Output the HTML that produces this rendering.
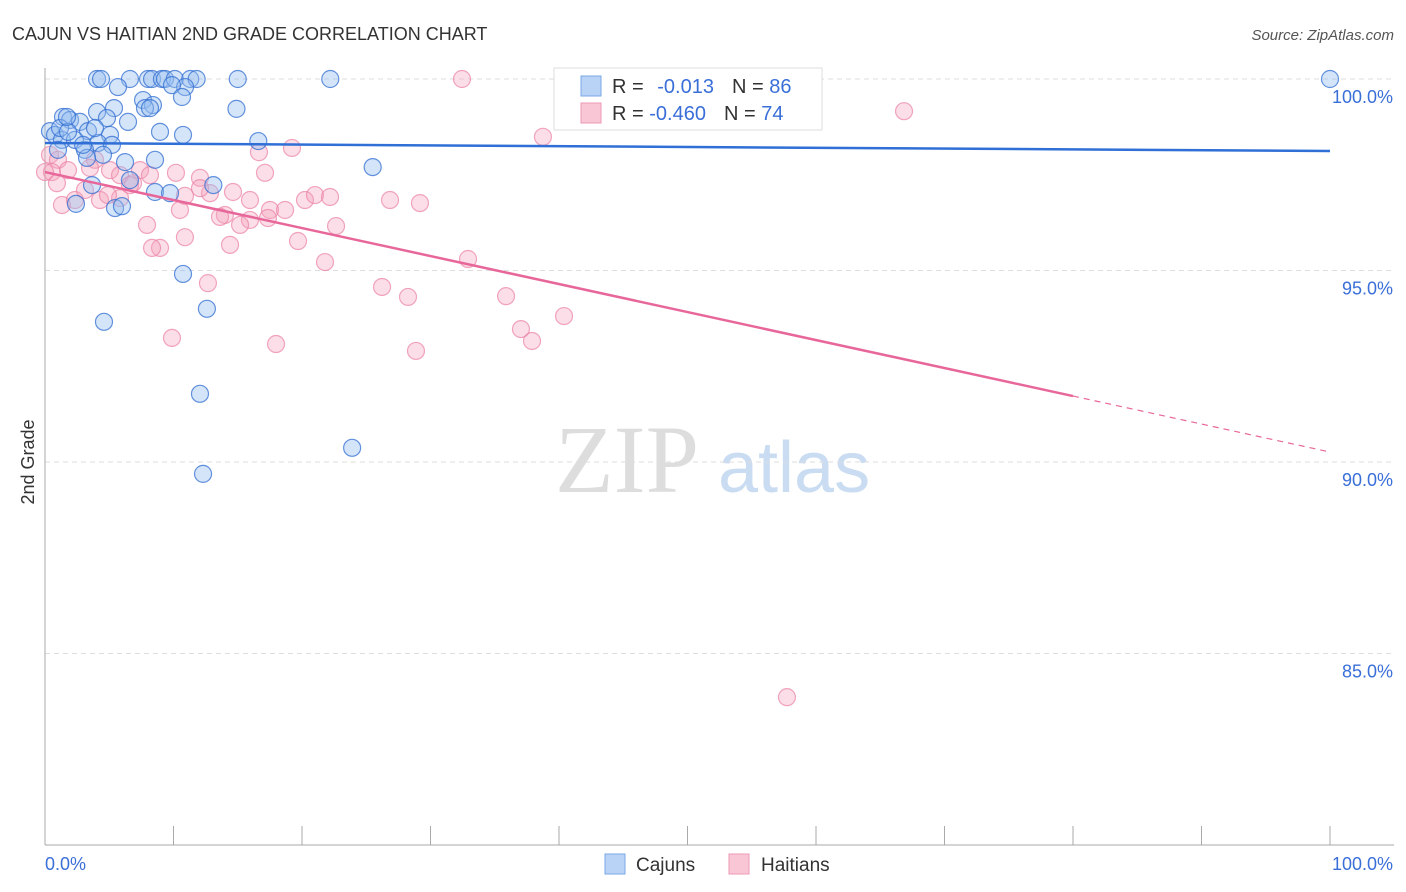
<!DOCTYPE html>
<html><head><meta charset="utf-8"><style>
body{margin:0;background:#fff;font-family:"Liberation Sans",sans-serif;}
svg{display:block}
</style></head><body>
<svg id="c" width="1406" height="892">
<text x="12" y="40" font-size="18" fill="#333">CAJUN VS HAITIAN 2ND GRADE CORRELATION CHART</text>
<text x="1394" y="40" font-size="15" fill="#555" font-style="italic" text-anchor="end">Source: ZipAtlas.com</text>
<text x="34" y="462" font-size="18" fill="#333" transform="rotate(-90 34 462)" text-anchor="middle">2nd Grade</text>
<text x="555" y="492" font-size="96" fill="#ddd" font-family="Liberation Serif,serif">ZIP</text>
<text x="718" y="492" font-size="72" fill="#c9dcf2">atlas</text>
<g id="grid"></g><g id="pts"></g><g id="trend"></g>
<g>
<rect x="554" y="68" width="268" height="62" fill="#fff" stroke="#ddd"/>
<rect x="581" y="76" width="20" height="20" fill="#b8d3f5" stroke="#7aa7e6"/>
<rect x="581" y="103" width="20" height="20" fill="#f9c6d5" stroke="#ee9ab4"/>
<text x="612" y="93" font-size="20" fill="#333">R = <tspan fill="#3a6fd8" dx="8">-0.013</tspan><tspan dx="18" fill="#333">N = </tspan><tspan fill="#3a6fd8">86</tspan></text>
<text x="612" y="120" font-size="20" fill="#333">R = <tspan fill="#3a6fd8">-0.460</tspan><tspan dx="18" fill="#333">N = </tspan><tspan fill="#3a6fd8">74</tspan></text>
</g>
<g>
<rect x="605" y="854" width="20" height="20" fill="#b8d3f5" stroke="#7aa7e6"/>
<text x="636" y="871" font-size="19" fill="#333">Cajuns</text>
<rect x="729" y="854" width="20" height="20" fill="#f9c6d5" stroke="#ee9ab4"/>
<text x="761" y="871" font-size="19" fill="#333">Haitians</text>
</g>
</svg>
<script>
const yTicks=[100,95,90,85];
const yTickLabels=["100.0%","95.0%","90.0%","85.0%"];
const xTickLabels=["0.0%","100.0%"];
const cajunX=[4.05,4.36,6.61,8.02,8.33,9.1,9.34,10.1,11.3,11.8,15.0,22.2,100,5.68,10.9,9.88,7.63,8.4,10.66,14.9,5.37,4.05,1.4,1.95,2.72,4.82,6.46,3.35,5.06,8.95,10.74,16.6,0.39,0.78,1.32,2.33,4.12,5.21,3.11,4.51,6.23,8.56,25.5,3.66,6.61,13.1,8.56,9.73,2.41,5.45,5.99,10.74,4.59,12.6,12.06,23.9,12.3,1.17,1.79,3.89,1.01,3.27,7.78,8.17,1.71,2.96];
const cajunY=[100,100,100,100,100,100,100,100,100,100,100,100,100,99.79,99.79,99.84,99.45,99.32,99.53,99.22,99.24,99.14,99.01,98.93,98.88,98.98,98.88,98.64,98.54,98.62,98.54,98.38,98.64,98.54,98.41,98.41,98.33,98.28,98.15,98.02,97.83,97.89,97.70,97.23,97.36,97.23,97.05,97.02,96.74,96.63,96.68,94.91,93.66,94.0,91.78,90.37,89.69,98.72,98.62,98.72,98.15,97.94,99.24,99.24,99.01,98.28];
const haitiX=[32.45,66.85,38.75,19.22,16.65,17.12,0.39,1.01,0.54,1.79,3.89,5.06,5.84,7.39,6.85,8.17,10.19,12.06,12.84,14.63,15.95,17.51,18.68,20.23,21.01,22.18,26.85,29.18,1.32,2.33,4.28,5.84,10.89,14.0,15.95,15.18,17.35,22.65,7.94,8.95,8.33,10.89,14.4,19.69,21.79,32.92,26.23,28.25,35.88,37.04,40.39,37.9,9.88,17.98,28.87,12.68,57.74,4.9,3.11,6.61,12.06,13.62,10.5,0.93,0,3.5];
const haitiY=[100,99.16,98.49,98.2,98.09,97.55,98.02,97.89,97.57,97.62,97.89,97.62,97.49,97.62,97.28,97.49,97.55,97.42,97.02,97.05,96.84,96.58,96.58,96.84,96.97,96.92,96.84,96.76,96.71,96.84,96.84,96.89,96.95,96.45,96.32,96.19,96.37,96.16,96.19,95.59,95.59,95.87,95.67,95.77,95.22,95.3,94.57,94.31,94.33,93.47,93.81,93.16,93.24,93.08,92.9,94.67,83.86,96.97,97.1,97.23,97.15,96.4,96.58,97.28,97.57,97.68];
const cajunTrend=[98.33,98.12];
const haitiTrend=[97.57,90.26];
const X=v=>45+v*12.85, Y=v=>79+(100-v)*38.3;
const NS="http://www.w3.org/2000/svg";
function mk(t,p,a){const e=document.createElementNS(NS,t);for(const k in a)e.setAttribute(k,a[k]);p.appendChild(e);return e;}
const g=document.getElementById('grid');
yTicks.forEach((t,i)=>{
 const l=mk('line',g,{x1:45,x2:1394,y1:Y(t),y2:Y(t),stroke:'#ddd','stroke-dasharray':'5,4'});
 
 
 const tx=mk('text',g,{x:1393,y:Y(t)+24,'font-size':18,fill:'#3a6fd8','text-anchor':'end'});tx.textContent=yTickLabels[i];
 
 
});
mk('line',g,{x1:45,x2:45,y1:68,y2:845,stroke:'#aaa'});
mk('line',g,{x1:45,x2:1394,y1:845,y2:845,stroke:'#aaa'});
for(let i=0;i<=10;i++){mk('line',g,{x1:X(i*10),x2:X(i*10),y1:826,y2:845,stroke:'#aaa'});}
const xl0=mk('text',g,{x:45,y:870,'font-size':18,fill:'#3a6fd8'});xl0.textContent=xTickLabels[0];


const xl1=mk('text',g,{x:1393,y:870,'font-size':18,fill:'#3a6fd8','text-anchor':'end'});xl1.textContent=xTickLabels[1];


const p=document.getElementById('pts');
haitiX.forEach((x,i)=>{const c=mk('circle',p,{cx:X(x),cy:Y(haitiY[i]),r:8.5,fill:'rgba(244,160,186,0.35)',stroke:'rgba(235,130,165,0.7)','stroke-width':1.2});
 
 });
cajunX.forEach((x,i)=>{const c=mk('circle',p,{cx:X(x),cy:Y(cajunY[i]),r:8.5,fill:'rgba(150,190,240,0.4)',stroke:'rgba(50,110,210,0.75)','stroke-width':1.2});
 
 });
const t=document.getElementById('trend');
const b=mk('line',t,{x1:X(0),x2:X(100),y1:Y(cajunTrend[0]),y2:Y(cajunTrend[1]),stroke:'#2f6fd6','stroke-width':2.5});


const hm=haitiTrend[0]+(haitiTrend[1]-haitiTrend[0])*0.8;
const h1=mk('line',t,{x1:X(0),x2:X(80),y1:Y(haitiTrend[0]),y2:Y(hm),stroke:'#e8679a','stroke-width':2.5});


const h2=mk('line',t,{x1:X(80),x2:X(100),y1:Y(hm),y2:Y(haitiTrend[1]),stroke:'#e8679a','stroke-width':1.2,'stroke-dasharray':'6,5'});


</script>
</body></html>
